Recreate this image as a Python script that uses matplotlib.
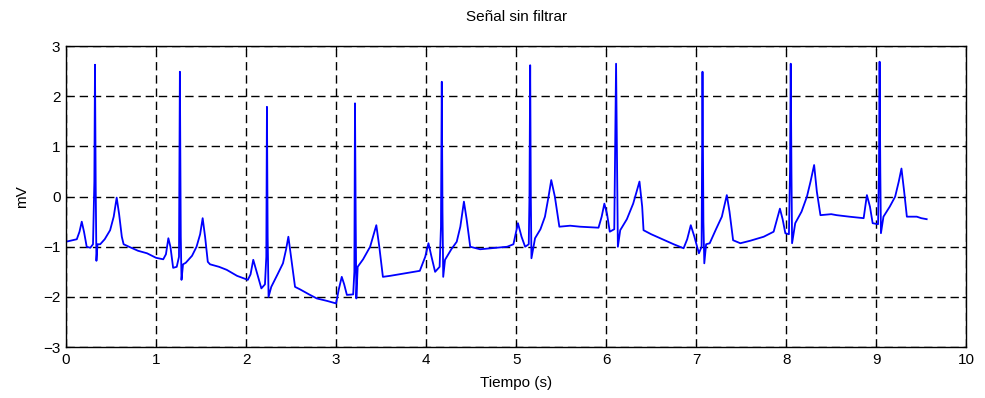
import matplotlib
matplotlib.use("Agg")
import matplotlib.pyplot as plt

# ECG trace vertices (time in s, amplitude in mV)
time_s = [
    0.00, 0.05, 0.12, 0.15, 0.175, 0.20, 0.23, 0.27, 0.30, 0.315, 0.322, 0.33, 0.338, 0.35, 0.38, 0.43, 0.49, 0.53, 0.563, 0.59, 0.62, 0.64, 0.70, 0.80, 0.90, 1.00, 1.08,
    1.11, 1.137, 1.16, 1.19, 1.23, 1.255, 1.265, 1.275, 1.283, 1.30, 1.33, 1.40, 1.45, 1.49, 1.518, 1.545, 1.575, 1.60, 1.70, 1.785, 1.90, 2.02,
    2.05, 2.08, 2.11, 2.17, 2.21, 2.225, 2.232, 2.24, 2.25, 2.28, 2.35, 2.41, 2.445, 2.47, 2.50, 2.544, 2.60, 2.70, 2.785, 2.90, 3.00,
    3.03, 3.063, 3.09, 3.12, 3.19, 3.203, 3.21, 3.218, 3.225, 3.24, 3.30, 3.378, 3.41, 3.447, 3.48, 3.52, 3.60, 3.70, 3.80, 3.93,
    3.99, 4.026, 4.06, 4.10, 4.15, 4.165, 4.174, 4.182, 4.19, 4.21, 4.28, 4.34, 4.38, 4.42, 4.45, 4.49, 4.60, 4.785, 4.90, 4.97,
    5.02, 5.06, 5.10, 5.14, 5.148, 5.156, 5.163, 5.17, 5.21, 5.27, 5.32, 5.36, 5.39, 5.43, 5.48, 5.60, 5.71, 5.915,
    5.95, 5.98, 6.01, 6.04, 6.09, 6.10, 6.11, 6.12, 6.13, 6.156, 6.23, 6.30, 6.37, 6.40, 6.415, 6.50, 6.60, 6.75, 6.86,
    6.90, 6.94, 6.98, 7.03, 7.06, 7.07, 7.08, 7.09, 7.11, 7.15, 7.22, 7.285, 7.34, 7.37, 7.41, 7.49, 7.60, 7.75, 7.86,
    7.93, 7.96, 7.99, 8.03, 8.042, 8.05, 8.058, 8.065, 8.10, 8.17, 8.23, 8.27, 8.31, 8.34, 8.38, 8.50, 8.56, 8.70, 8.86,
    8.896, 8.93, 8.96, 9.02, 9.03, 9.037, 9.045, 9.052, 9.08, 9.15, 9.21, 9.25, 9.28, 9.31, 9.34, 9.45, 9.50, 9.56,
]
amplitude_mv = [
    -0.90, -0.88, -0.85, -0.70, -0.50, -0.70, -1.00, -1.02, -0.95, 0.30, 2.63, 0.20, -1.28, -0.95, -0.95, -0.85, -0.67, -0.40, -0.02, -0.35, -0.80, -0.95, -1.00, -1.08, -1.13, -1.22, -1.25,
    -1.15, -0.83, -1.00, -1.42, -1.40, -1.20, 2.49, -0.80, -1.66, -1.35, -1.32, -1.18, -1.00, -0.75, -0.43, -0.80, -1.30, -1.35, -1.40, -1.46, -1.58, -1.66,
    -1.55, -1.26, -1.45, -1.83, -1.75, -1.20, 1.79, -0.80, -2.00, -1.80, -1.55, -1.33, -1.05, -0.80, -1.20, -1.80, -1.85, -1.95, -2.03, -2.08, -2.13,
    -1.85, -1.60, -1.75, -1.96, -1.95, -1.50, 1.86, -0.50, -2.03, -1.40, -1.25, -1.00, -0.80, -0.57, -1.00, -1.60, -1.58, -1.55, -1.52, -1.48,
    -1.20, -0.93, -1.20, -1.50, -1.40, -0.60, 2.29, -0.30, -1.60, -1.26, -1.05, -0.90, -0.60, -0.10, -0.45, -1.00, -1.05, -1.02, -1.00, -0.95,
    -0.53, -0.80, -1.00, -0.95, 0.00, 2.62, 0.00, -1.23, -0.83, -0.65, -0.40, 0.00, 0.33, 0.00, -0.60, -0.58, -0.60, -0.62,
    -0.40, -0.14, -0.35, -0.70, -0.65, 1.00, 2.65, 0.90, -1.00, -0.67, -0.45, -0.14, 0.30, -0.20, -0.67, -0.75, -0.83, -0.95, -1.03,
    -0.85, -0.57, -0.80, -1.13, -1.00, 2.49, -0.50, -1.33, -0.95, -0.93, -0.65, -0.40, 0.03, -0.30, -0.87, -0.93, -0.88, -0.80, -0.70,
    -0.24, -0.45, -0.73, -0.75, 0.50, 2.65, 0.50, -0.93, -0.53, -0.30, 0.00, 0.30, 0.63, 0.10, -0.37, -0.35, -0.37, -0.40, -0.43,
    0.03, -0.20, -0.53, -0.55, 0.50, 2.69, 0.50, -0.73, -0.40, -0.20, 0.00, 0.30, 0.56, 0.10, -0.40, -0.40, -0.43, -0.45,
]

x_ticks = [0, 1, 2, 3, 4, 5, 6, 7, 8, 9, 10]
y_ticks = [-3, -2, -1, 0, 1, 2, 3]

plt.rcParams['font.family'] = ['Liberation Sans', 'DejaVu Sans']

fig = plt.figure(figsize=(9.85, 3.98), dpi=100)
ax = fig.add_axes([0.067, 0.128, 0.914, 0.756])

ax.plot(time_s, amplitude_mv, color='#0000ff', linewidth=1.3)

ax.set_xlim(0, 10)
ax.set_ylim(-3, 3)
ax.set_xticks(x_ticks)
ax.set_yticks(y_ticks)
ax.grid(True, color='black', linestyle=(0, (6, 3.5)), linewidth=1.0)
ax.tick_params(direction='in', top=True, right=True, length=3, labelsize=11, pad=4)
for s in ax.spines.values():
    s.set_linewidth(1.0)

ax.set_title('Señal sin filtrar', fontsize=11, pad=18)
ax.set_xlabel('Tiempo (s)', fontsize=11, labelpad=7)
ax.set_ylabel('mV', fontsize=11, labelpad=10)

fig.savefig('out.png', dpi=100)
